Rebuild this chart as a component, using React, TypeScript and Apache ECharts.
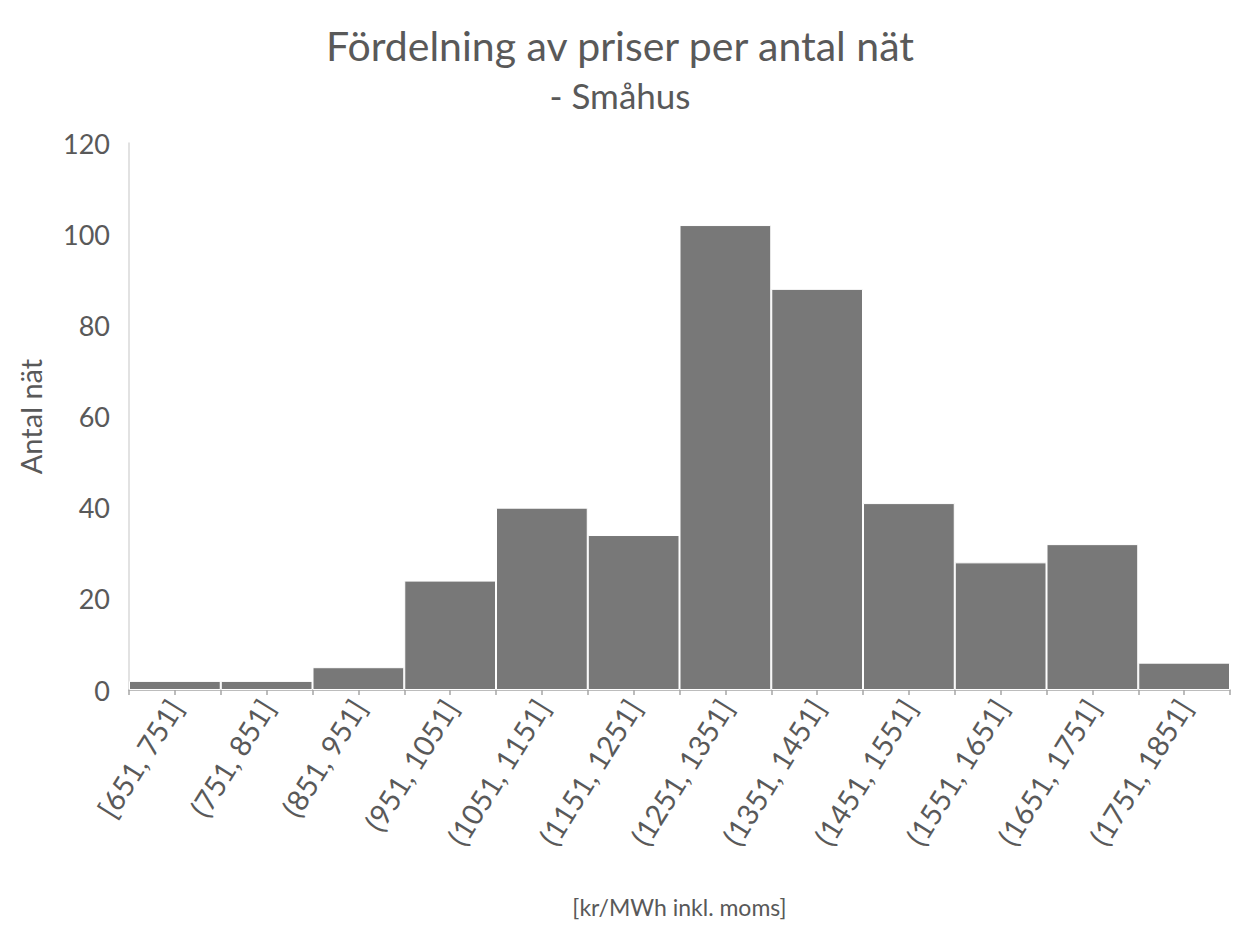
import React, { useEffect, useRef } from "react";
import * as echarts from "echarts";

const categories = [
  "[651, 751]",
  "(751, 851]",
  "(851, 951]",
  "(951, 1051]",
  "(1051, 1151]",
  "(1151, 1251]",
  "(1251, 1351]",
  "(1351, 1451]",
  "(1451, 1551]",
  "(1551, 1651]",
  "(1651, 1751]",
  "(1751, 1851]",
];
const counts = [2, 2, 5, 24, 40, 34, 102, 88, 41, 28, 32, 6];
const yTicks = { min: 0, max: 120, interval: 20 };

const FONT = "Lato, 'Open Sans', sans-serif";
const TXT = "#595959";

export default function App() {
  const ref = useRef<HTMLDivElement>(null);
  useEffect(() => {
    document.body.style.margin = "0";
    const chart = echarts.init(ref.current!, undefined, { renderer: "svg" });
    chart.setOption({
      animation: false,
      backgroundColor: "#ffffff",
      textStyle: { fontFamily: FONT },
      title: [
        {
          text: "Fördelning av priser per antal nät",
          left: "center",
          top: 20,
          textStyle: { fontFamily: FONT, fontSize: 41, fontWeight: "normal", color: TXT },
        },
        {
          text: "- Småhus",
          left: "center",
          top: 72,
          textStyle: { fontFamily: FONT, fontSize: 35, fontWeight: "normal", color: TXT },
        },
      ],
      grid: { left: 129, right: 10, top: 143, bottom: 240, containLabel: false },
      xAxis: [
        {
          type: "category",
          data: categories,
          boundaryGap: true,
          name: "[kr/MWh inkl. moms]",
          nameLocation: "middle",
          nameGap: 205,
          nameTextStyle: { fontFamily: FONT, fontSize: 23, color: TXT },
          axisLine: { show: true, lineStyle: { color: "#a6a6a6", width: 1.5 } },
          axisTick: { show: true, alignWithLabel: false, interval: 0, length: 5, lineStyle: { color: "#a6a6a6", width: 1.5 } },
          axisLabel: {
            interval: 0,
            rotate: 58,
            fontFamily: FONT,
            fontSize: 29,
            color: TXT,
            margin: 12,
          },
          splitLine: { show: false },
        },
        {
          type: "category",
          data: categories,
          position: "bottom",
          boundaryGap: true,
          axisLine: { show: false },
          axisTick: { show: true, alignWithLabel: true, interval: 0, length: 5, lineStyle: { color: "#a6a6a6", width: 1.5 } },
          axisLabel: { show: false },
          splitLine: { show: false },
        },
      ],
      yAxis: {
        type: "value",
        min: yTicks.min,
        max: yTicks.max,
        interval: yTicks.interval,
        name: "Antal nät",
        nameLocation: "middle",
        nameGap: 84,
        nameRotate: 90,
        nameTextStyle: { fontFamily: FONT, fontSize: 29, color: TXT },
        axisLine: { show: true, lineStyle: { color: "#d9d9d9", width: 1.5 } },
        axisTick: { show: false },
        axisLabel: { fontFamily: FONT, fontSize: 27, color: TXT, margin: 19 },
        splitLine: { show: false },
      },
      series: [
        {
          type: "bar",
          data: counts,
          barCategoryGap: "0%",
          itemStyle: { color: "#787878", borderColor: "#ffffff", borderWidth: 1 },
        },
      ],
    });
    return () => chart.dispose();
  }, []);
  return <div ref={ref} style={{ width: 1240, height: 930 }} />;
}
